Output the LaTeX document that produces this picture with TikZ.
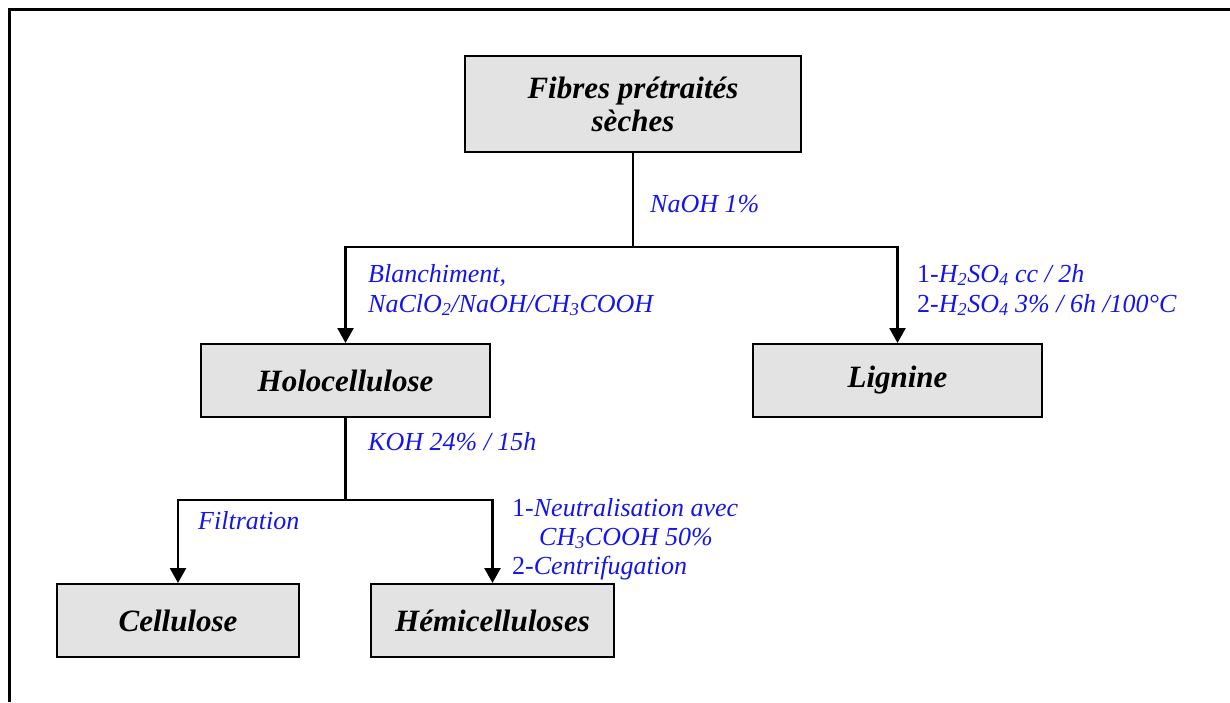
\documentclass[tikz,border=0pt]{standalone}
\usepackage{fontspec}
\setmainfont{Liberation Serif}
\usetikzlibrary{arrows.meta}
\definecolor{lblblue}{RGB}{20,20,240}
\tikzset{
 box/.style={draw=black, line width=2pt, fill=black!11, font=\fontsize{31}{33}\selectfont\bfseries\itshape, align=center, inner sep=0pt},
 lbl/.style={text=lblblue, font=\fontsize{26}{30}\selectfont\itshape, anchor=west, inner sep=0pt, align=left},
 conn/.style={line width=2.5pt},
 arr/.style={conn, -{Triangle[length=15pt,width=16pt]}},
 frame/.style={line width=3pt},
}
\begin{document}
\begin{tikzpicture}[x=1pt,y=-1pt]
\useasboundingbox (0,0) rectangle (1230,702);
\coordinate (fbl) at (9,702);
\coordinate (ftl) at (9,9);
\coordinate (ftr) at (1230,9);
\draw[frame] (fbl) -- (ftl) -- (ftr);
\node[box, minimum width=336pt, minimum height=96pt] (fib) at (633,104) {Fibres prétraités\\sèches};
\node[box, minimum width=289pt, minimum height=73pt] (holo) at (345.5,380.5) {Holocellulose};
\node[box, minimum width=289pt, minimum height=73pt] (lig) at (897.5,380.5) {Lignine};
\node[box, minimum width=241.5pt, minimum height=73pt] (cel) at (178,620.5) {Cellulose};
\node[box, minimum width=243pt, minimum height=73pt] (hemi) at (492.5,620.5) {Hémicelluloses};
\coordinate (j1) at (633,247);
\coordinate (j2) at (345.5,500);
\draw[conn] (fib.south) -- (j1);
\draw[arr] (j1) -| (holo.north);
\draw[arr] (j1) -| (lig.north);
\draw[conn] (holo.south) -- (j2);
\draw[arr] (j2) -| (cel.north);
\draw[arr] (j2) -| (hemi.north);
\node[lbl] (l1) at (650,204) {NaOH 1\%};
\node[lbl] (l2) at (368,290) {Blanchiment,\\NaClO\textsubscript{2}/NaOH/CH\textsubscript{3}COOH};
\node[lbl] (l3) at (917,290) {{\upshape 1-}H\textsubscript{2}SO\textsubscript{4} cc / 2h\\{\upshape 2-}H\textsubscript{2}SO\textsubscript{4} 3\% / 6h /100°C};
\node[lbl] (l4) at (368,442) {KOH 24\% / 15h};
\node[lbl] (l5) at (198,521) {Filtration};
\node[lbl, font=\fontsize{26}{29}\selectfont\itshape] (l6) at (512,539) {{\upshape 1-}Neutralisation avec\\\hspace*{27pt}CH\textsubscript{3}COOH 50\%\\{\upshape 2-}Centrifugation};
\end{tikzpicture}
\end{document}
